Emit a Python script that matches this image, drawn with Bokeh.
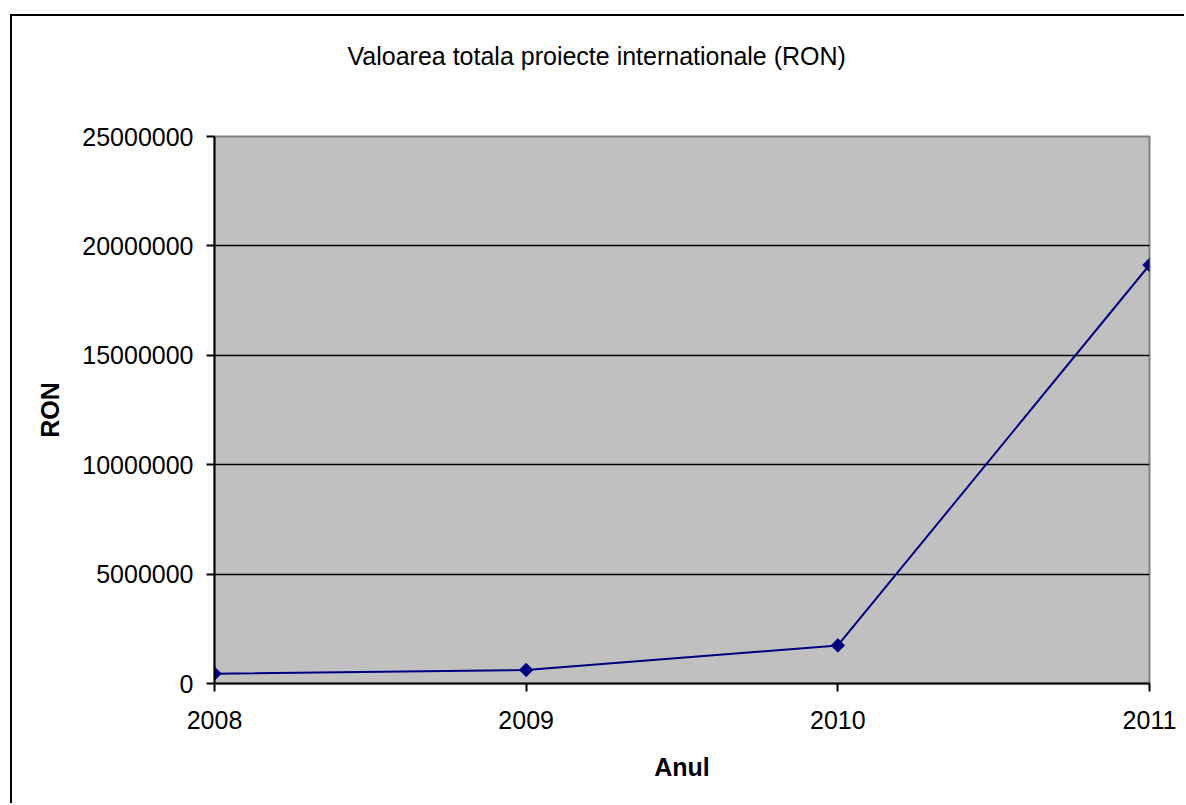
import math
from bokeh.plotting import figure
from bokeh.models import Range1d, FixedTicker, BasicTickFormatter, Title
from bokeh.embed import file_html
from bokeh.resources import INLINE

years = [2008, 2009, 2010, 2011]
values = [450000, 620000, 1740000, 19130000]
y_ticks = [0, 5000000, 10000000, 15000000, 20000000, 25000000]
grid_ticks = [5000000, 10000000, 15000000, 20000000]
title_text = "Valoarea totala proiecte internationale (RON)"
x_label = "Anul"
y_label = "RON"

FONT = "Liberation Sans"
FS = "25px"

p = figure(width=1174, height=789, output_backend="svg", toolbar_location=None,
           x_range=Range1d(2008, 2011), y_range=Range1d(0, 25000000),
           min_border_left=202, min_border_right=37, min_border_top=120,
           min_border_bottom=122)
p.margin = (14, 0, 0, 10)
p.styles = {"border-left": "2px solid black", "border-top": "2px solid black"}

p.background_fill_color = "#C0C0C0"
p.border_fill_color = "white"
p.outline_line_color = "#808080"
p.outline_line_width = 2

# spacer between frame and title
p.add_layout(Title(text=" ", text_font=FONT, text_font_size="54px", standoff=0), "above")

p.title.text = title_text
p.title.align = "left"
p.title.offset = 133
p.title.standoff = 10
p.title.text_font = FONT
p.title.text_font_size = FS
p.title.text_font_style = "normal"
p.title.text_color = "black"

p.xgrid.visible = False
p.ygrid.ticker = FixedTicker(ticks=grid_ticks)
p.ygrid.grid_line_color = "black"
p.ygrid.grid_line_width = 1.5

for ax in (p.xaxis[0], p.yaxis[0]):
    ax.axis_line_color = "black"
    ax.axis_line_width = 2
    ax.major_tick_line_color = "black"
    ax.major_tick_line_width = 2
    ax.major_tick_out = 8
    ax.major_tick_in = 0
    ax.minor_tick_line_color = None
    ax.major_label_text_font = FONT
    ax.major_label_text_font_size = FS
    ax.major_label_text_color = "black"
    ax.axis_label_text_font = FONT
    ax.axis_label_text_font_size = FS
    ax.axis_label_text_font_style = "bold"
    ax.axis_label_text_color = "black"

p.xaxis.ticker = FixedTicker(ticks=years)
p.xaxis.formatter = BasicTickFormatter(use_scientific=False)
p.xaxis.major_label_standoff = 19
p.xaxis.axis_label = x_label
p.xaxis.axis_label_standoff = 21

p.yaxis.ticker = FixedTicker(ticks=y_ticks)
p.yaxis.formatter = BasicTickFormatter(use_scientific=False)
p.yaxis.major_label_standoff = 13
p.yaxis.axis_label = y_label
p.yaxis.axis_label_standoff = 15

p.line(years, values, line_color="#000080", line_width=2)
p.scatter(years, values, marker="square", size=9.5, angle=math.pi / 4,
          fill_color="#000080", line_color="#000080")

open("out.html", "w").write(file_html(p, INLINE))
